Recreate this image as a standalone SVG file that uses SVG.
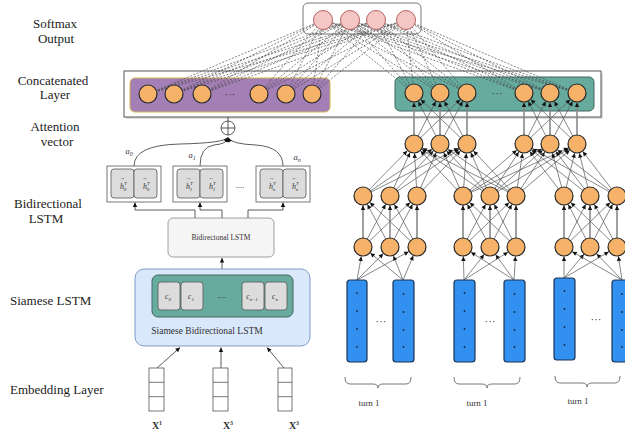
<svg xmlns="http://www.w3.org/2000/svg" width="625" height="438" viewBox="0 0 625 438">
<style>
  .lbl{font-family:"Liberation Serif","Times New Roman",serif;font-size:13px;fill:#222}
  .sm{font-family:"Liberation Serif","Times New Roman",serif;fill:#333}
  .it{font-family:"Liberation Serif","Times New Roman",serif;font-style:italic;fill:#333}
  .node{fill:#f7b26a;stroke:#2a2a2a;stroke-width:1.2}
  .soft{fill:#f5c6c6;stroke:#b86060;stroke-width:1}
  .d{stroke:#555;stroke-width:0.7;marker-end:url(#ah9)}
  .v{stroke:#8a8a8a;stroke-width:1.6;marker-end:url(#ah9)}
  .dash{stroke:#444;stroke-width:0.65;stroke-dasharray:2 1.5;fill:none}
  .bar{fill:#3190f0;stroke:#1d3556;stroke-width:1.2}
  .cell{fill:#dcdcdc;stroke:#555;stroke-width:0.8}
  .conn{stroke:#333;stroke-width:0.8;fill:none}
  .brace{stroke:#555;stroke-width:0.8;fill:none}
</style>
<defs>
  <marker id="ah9" markerUnits="userSpaceOnUse" markerWidth="20" markerHeight="20" orient="auto" overflow="visible" refX="0" refY="0">
    <path d="M-14,-2.2 L-9.6,0 L-14,2.2 z" fill="#111"/>
  </marker>
  <marker id="ah" markerUnits="userSpaceOnUse" markerWidth="10" markerHeight="10" orient="auto" overflow="visible" refX="0" refY="0">
    <path d="M-4.5,-2.2 L0,0 L-4.5,2.2 z" fill="#111"/>
  </marker>
</defs>
<rect width="625" height="438" fill="#fff"/>

<!-- row labels -->
<g id="labels">
  <text class="lbl" x="55" y="28" text-anchor="middle">Softmax</text>
  <text class="lbl" x="56" y="43" text-anchor="middle">Output</text>
  <text class="lbl" x="53" y="85" text-anchor="middle">Concatenated</text>
  <text class="lbl" x="55" y="99" text-anchor="middle">Layer</text>
  <text class="lbl" x="55" y="131" text-anchor="middle">Attention</text>
  <text class="lbl" x="57" y="146" text-anchor="middle">vector</text>
  <text class="lbl" x="48" y="208" text-anchor="middle">Bidirectional</text>
  <text class="lbl" x="46" y="223" text-anchor="middle">LSTM</text>
  <text class="lbl" x="10" y="305">Siamese LSTM</text>
  <text class="lbl" x="10" y="394">Embedding Layer</text>
</g>

<!-- container boxes -->
<g id="softmax-box">
  <rect x="303" y="3" width="118" height="31" rx="5" fill="#fff" stroke="#777" stroke-width="1"/>
</g>
<g id="concat-box">
  <rect x="126" y="73" width="477" height="46" fill="#ddd"/>
  <rect x="124" y="71" width="477" height="46" fill="#fff" stroke="#555" stroke-width="1"/>
  <rect x="130" y="78" width="200" height="34" rx="5" fill="#a47fb6" stroke="#d6b656" stroke-width="1"/>
  <rect x="395" y="77" width="199" height="34" rx="5" fill="#67ab9f" stroke="#44665f" stroke-width="1"/>
  <text class="sm" x="230" y="98" font-size="11" text-anchor="middle">···</text>
  <text class="sm" x="497" y="97" font-size="11" text-anchor="middle">···</text>
</g>

<!-- connectors -->
<g id="connectors">
  <!-- dashed links to softmax -->
  <path class="dash" d="M148,94L323,20M148,94L350,20M148,94L376,20M148,94L406,20
  M174,94L323,20M174,94L350,20M174,94L376,20M174,94L406,20
  M202,94L323,20M202,94L350,20M202,94L376,20M202,94L406,20
  M259,94L323,20M259,94L350,20M259,94L376,20M259,94L406,20
  M286,94L323,20M286,94L350,20M286,94L376,20M286,94L406,20
  M312,94L323,20M312,94L350,20M312,94L376,20M312,94L406,20
  M414,93L323,20M414,93L350,20M414,93L376,20M414,93L406,20
  M440,93L323,20M440,93L350,20M440,93L376,20M440,93L406,20
  M467,93L323,20M467,93L350,20M467,93L376,20M467,93L406,20
  M524,93L323,20M524,93L350,20M524,93L376,20M524,93L406,20
  M550,93L323,20M550,93L350,20M550,93L376,20M550,93L406,20
  M577,93L323,20M577,93L350,20M577,93L376,20M577,93L406,20"/>

  <!-- layer 2 to concatenated (right) -->
  <line class="v" x1="414" y1="144" x2="414" y2="93"/>
  <line class="d" x1="414" y1="144" x2="440" y2="93"/>
  <line class="d" x1="414" y1="144" x2="467" y2="93"/>
  <line class="d" x1="440" y1="144" x2="414" y2="93"/>
  <line class="v" x1="440" y1="144" x2="440" y2="93"/>
  <line class="d" x1="440" y1="144" x2="467" y2="93"/>
  <line class="d" x1="467" y1="144" x2="414" y2="93"/>
  <line class="d" x1="467" y1="144" x2="440" y2="93"/>
  <line class="v" x1="467" y1="144" x2="467" y2="93"/>
  <line class="v" x1="524" y1="144" x2="524" y2="93"/>
  <line class="d" x1="524" y1="144" x2="550" y2="93"/>
  <line class="d" x1="524" y1="144" x2="577" y2="93"/>
  <line class="d" x1="550" y1="144" x2="524" y2="93"/>
  <line class="v" x1="550" y1="144" x2="550" y2="93"/>
  <line class="d" x1="550" y1="144" x2="577" y2="93"/>
  <line class="d" x1="577" y1="144" x2="524" y2="93"/>
  <line class="d" x1="577" y1="144" x2="550" y2="93"/>
  <line class="v" x1="577" y1="144" x2="577" y2="93"/>

  <!-- layer 3 to layer 2 -->
  <line class="d" x1="363" y1="196" x2="414" y2="144"/>
  <line class="d" x1="363" y1="196" x2="440" y2="144"/>
  <line class="d" x1="363" y1="196" x2="467" y2="144"/>
  <line class="d" x1="390" y1="196" x2="414" y2="144"/>
  <line class="d" x1="390" y1="196" x2="440" y2="144"/>
  <line class="d" x1="390" y1="196" x2="467" y2="144"/>
  <line class="d" x1="417" y1="196" x2="414" y2="144"/>
  <line class="d" x1="417" y1="196" x2="440" y2="144"/>
  <line class="d" x1="417" y1="196" x2="467" y2="144"/>
  <line class="d" x1="463" y1="196" x2="414" y2="144"/>
  <line class="d" x1="463" y1="196" x2="440" y2="144"/>
  <line class="d" x1="463" y1="196" x2="467" y2="144"/>
  <line class="d" x1="490" y1="196" x2="414" y2="144"/>
  <line class="d" x1="490" y1="196" x2="440" y2="144"/>
  <line class="d" x1="490" y1="196" x2="467" y2="144"/>
  <line class="d" x1="516" y1="196" x2="414" y2="144"/>
  <line class="d" x1="516" y1="196" x2="440" y2="144"/>
  <line class="d" x1="516" y1="196" x2="467" y2="144"/>
  <line class="d" x1="463" y1="196" x2="524" y2="144"/>
  <line class="d" x1="463" y1="196" x2="550" y2="144"/>
  <line class="d" x1="463" y1="196" x2="577" y2="144"/>
  <line class="d" x1="490" y1="196" x2="524" y2="144"/>
  <line class="d" x1="490" y1="196" x2="550" y2="144"/>
  <line class="d" x1="490" y1="196" x2="577" y2="144"/>
  <line class="d" x1="516" y1="196" x2="524" y2="144"/>
  <line class="d" x1="516" y1="196" x2="550" y2="144"/>
  <line class="d" x1="516" y1="196" x2="577" y2="144"/>
  <line class="d" x1="564" y1="196" x2="524" y2="144"/>
  <line class="d" x1="564" y1="196" x2="550" y2="144"/>
  <line class="d" x1="564" y1="196" x2="577" y2="144"/>
  <line class="d" x1="590" y1="196" x2="524" y2="144"/>
  <line class="d" x1="590" y1="196" x2="550" y2="144"/>
  <line class="d" x1="590" y1="196" x2="577" y2="144"/>
  <line class="d" x1="617" y1="196" x2="524" y2="144"/>
  <line class="d" x1="617" y1="196" x2="550" y2="144"/>
  <line class="d" x1="617" y1="196" x2="577" y2="144"/>

  <!-- layer 4 to layer 3 -->
  <line class="v" x1="363" y1="247" x2="363" y2="196"/>
  <line class="d" x1="363" y1="247" x2="390" y2="196"/>
  <line class="d" x1="363" y1="247" x2="417" y2="196"/>
  <line class="d" x1="390" y1="247" x2="363" y2="196"/>
  <line class="v" x1="390" y1="247" x2="390" y2="196"/>
  <line class="d" x1="390" y1="247" x2="417" y2="196"/>
  <line class="d" x1="417" y1="247" x2="363" y2="196"/>
  <line class="d" x1="417" y1="247" x2="390" y2="196"/>
  <line class="v" x1="417" y1="247" x2="417" y2="196"/>
  <line class="v" x1="463" y1="247" x2="463" y2="196"/>
  <line class="d" x1="463" y1="247" x2="490" y2="196"/>
  <line class="d" x1="463" y1="247" x2="516" y2="196"/>
  <line class="d" x1="490" y1="247" x2="463" y2="196"/>
  <line class="v" x1="490" y1="247" x2="490" y2="196"/>
  <line class="d" x1="490" y1="247" x2="516" y2="196"/>
  <line class="d" x1="516" y1="247" x2="463" y2="196"/>
  <line class="d" x1="516" y1="247" x2="490" y2="196"/>
  <line class="v" x1="516" y1="247" x2="516" y2="196"/>
  <line class="v" x1="564" y1="247" x2="564" y2="196"/>
  <line class="d" x1="564" y1="247" x2="590" y2="196"/>
  <line class="d" x1="564" y1="247" x2="617" y2="196"/>
  <line class="d" x1="590" y1="247" x2="564" y2="196"/>
  <line class="v" x1="590" y1="247" x2="590" y2="196"/>
  <line class="d" x1="590" y1="247" x2="617" y2="196"/>
  <line class="d" x1="617" y1="247" x2="564" y2="196"/>
  <line class="d" x1="617" y1="247" x2="590" y2="196"/>
  <line class="v" x1="617" y1="247" x2="617" y2="196"/>

  <!-- turn bars to layer 4 -->
  <line class="d" x1="357" y1="280" x2="363" y2="247"/>
  <line class="d" x1="357" y1="280" x2="390" y2="247"/>
  <line class="d" x1="357" y1="280" x2="417" y2="247"/>
  <line class="d" x1="403" y1="280" x2="363" y2="247"/>
  <line class="d" x1="403" y1="280" x2="390" y2="247"/>
  <line class="d" x1="403" y1="280" x2="417" y2="247"/>
  <line class="d" x1="464" y1="280" x2="463" y2="247"/>
  <line class="d" x1="464" y1="280" x2="490" y2="247"/>
  <line class="d" x1="464" y1="280" x2="516" y2="247"/>
  <line class="d" x1="514" y1="280" x2="463" y2="247"/>
  <line class="d" x1="514" y1="280" x2="490" y2="247"/>
  <line class="d" x1="514" y1="280" x2="516" y2="247"/>
  <line class="d" x1="564" y1="278" x2="564" y2="247"/>
  <line class="d" x1="564" y1="278" x2="590" y2="247"/>
  <line class="d" x1="564" y1="278" x2="617" y2="247"/>
  <line class="d" x1="622" y1="280" x2="564" y2="247"/>
  <line class="d" x1="622" y1="280" x2="590" y2="247"/>
  <line class="d" x1="622" y1="280" x2="617" y2="247"/>

  <!-- left branch: attention -->
  <line class="conn" x1="228" y1="117" x2="228" y2="121"/>
  <path class="conn" d="M134,166 Q134,145 180,144 Q224,143 228,137.5" marker-end="url(#ah)"/>
  <path class="conn" d="M200,166 Q200,147 214,145 Q227,144 228,137.5" marker-end="url(#ah)"/>
  <path class="conn" d="M283,166 Q283,147 256,145 Q231,144 228,137.5" marker-end="url(#ah)"/>
  <path class="conn" d="M195,218 V210 H135 V202.5" marker-end="url(#ah)"/>
  <path class="conn" d="M222,218 V210 H200 V202.5" marker-end="url(#ah)"/>
  <path class="conn" d="M248,218 V210 H283 V202.5" marker-end="url(#ah)"/>
  <path class="conn" d="M222,269 V258" marker-end="url(#ah)"/>
  <path class="conn" d="M157,368 L180,347.5" marker-end="url(#ah)"/>
  <path class="conn" d="M221,368 L221,347.5" marker-end="url(#ah)"/>
  <path class="conn" d="M284,368 L267,347.5" marker-end="url(#ah)"/>
  <path class="conn" d="M140,307 L137,307" marker-end="url(#ah)"/>
</g>

<!-- softmax output nodes -->
<g id="softmax">
  <circle class="soft" cx="323" cy="20" r="9.5"/>
  <circle class="soft" cx="350" cy="20" r="9.5"/>
  <circle class="soft" cx="376" cy="20" r="9.5"/>
  <circle class="soft" cx="406" cy="20" r="9.5"/>
</g>

<!-- concatenated layer nodes -->
<g id="concat-left">
  <circle class="node" cx="148" cy="94" r="9"/>
  <circle class="node" cx="174" cy="94" r="9"/>
  <circle class="node" cx="202" cy="94" r="9"/>
  <circle class="node" cx="259" cy="94" r="9"/>
  <circle class="node" cx="286" cy="94" r="9"/>
  <circle class="node" cx="312" cy="94" r="9"/>
</g>
<g id="concat-right">
  <circle class="node" cx="414" cy="93" r="9"/>
  <circle class="node" cx="440" cy="93" r="9"/>
  <circle class="node" cx="467" cy="93" r="9"/>
  <circle class="node" cx="524" cy="93" r="9"/>
  <circle class="node" cx="550" cy="93" r="9"/>
  <circle class="node" cx="577" cy="93" r="9"/>
</g>

<!-- attention sum -->
<g id="oplus">
  <circle cx="228" cy="128" r="7" fill="#fff" stroke="#444" stroke-width="0.9"/>
  <path d="M221,128 H235 M228,121 V135" stroke="#444" stroke-width="0.9"/>
  <text class="it" x="129" y="154" font-size="8.5" text-anchor="middle">a<tspan font-size="6" dy="2">0</tspan></text>
  <text class="it" x="192" y="158" font-size="8.5" text-anchor="middle">a<tspan font-size="6" dy="2">1</tspan></text>
  <text class="it" x="297" y="160" font-size="8.5" text-anchor="middle">a<tspan font-size="6" dy="2">n</tspan></text>
</g>

<!-- bidirectional hidden states -->
<g id="hidden-0">
  <rect x="107" y="166" width="54" height="36" fill="#fff" stroke="#555" stroke-width="0.8"/>
  <rect class="cell" x="111" y="169" width="23" height="29" rx="3"/>
  <rect class="cell" x="134" y="169" width="23" height="29" rx="3"/>
  <text class="sm" x="122.5" y="180" font-size="6" text-anchor="middle">→</text>
  <text class="sm" x="145.5" y="180" font-size="6" text-anchor="middle">←</text>
  <text class="it" x="120" y="189" font-size="8">h<tspan font-size="5" dy="-4">T</tspan><tspan font-size="5" dx="-3" dy="6">0</tspan></text>
  <text class="it" x="143" y="189" font-size="8">h<tspan font-size="5" dy="-4">T</tspan><tspan font-size="5" dx="-3" dy="6">0</tspan></text>
</g>
<g id="hidden-1">
  <rect x="173" y="166" width="54" height="36" fill="#fff" stroke="#555" stroke-width="0.8"/>
  <rect class="cell" x="177" y="169" width="23" height="29" rx="3"/>
  <rect class="cell" x="200" y="169" width="23" height="29" rx="3"/>
  <text class="sm" x="188.5" y="180" font-size="6" text-anchor="middle">→</text>
  <text class="sm" x="211.5" y="180" font-size="6" text-anchor="middle">←</text>
  <text class="it" x="186" y="189" font-size="8">h<tspan font-size="5" dy="-4">T</tspan><tspan font-size="5" dx="-3" dy="6">1</tspan></text>
  <text class="it" x="209" y="189" font-size="8">h<tspan font-size="5" dy="-4">T</tspan><tspan font-size="5" dx="-3" dy="6">1</tspan></text>
</g>
<text class="sm" x="240" y="188" font-size="9" text-anchor="middle">....</text>
<g id="hidden-n">
  <rect x="256" y="166" width="54" height="36" fill="#fff" stroke="#555" stroke-width="0.8"/>
  <rect class="cell" x="260" y="169" width="23" height="29" rx="3"/>
  <rect class="cell" x="283" y="169" width="23" height="29" rx="3"/>
  <text class="sm" x="271.5" y="180" font-size="6" text-anchor="middle">→</text>
  <text class="sm" x="294.5" y="180" font-size="6" text-anchor="middle">←</text>
  <text class="it" x="269" y="189" font-size="8">h<tspan font-size="5" dy="-4">T</tspan><tspan font-size="5" dx="-3" dy="6">n</tspan></text>
  <text class="it" x="292" y="189" font-size="8">h<tspan font-size="5" dy="-4">T</tspan><tspan font-size="5" dx="-3" dy="6">n</tspan></text>
</g>

<g id="bilstm">
  <rect x="168" y="218" width="106" height="39" rx="5" fill="#f5f5f5" stroke="#888" stroke-width="0.8"/>
  <text class="sm" x="221" y="240" font-size="7.5" text-anchor="middle">Bidirectonal LSTM</text>
</g>

<g id="siamese">
  <rect x="135" y="269" width="175" height="77" rx="9" fill="#dae8fc" stroke="#7d9cc8" stroke-width="1"/>
  <rect x="152" y="275" width="141" height="42" rx="6" fill="#67ab9f" stroke="#44665f" stroke-width="1"/>
  <rect class="cell" x="158" y="282" width="22" height="28" rx="3"/>
  <rect class="cell" x="181" y="282" width="22" height="28" rx="3"/>
  <rect class="cell" x="242" y="282" width="22" height="28" rx="3"/>
  <rect class="cell" x="265" y="282" width="22" height="28" rx="3"/>
  <text class="it" x="168" y="299" font-size="7.5" text-anchor="middle">c<tspan font-size="5" dy="1.5">0</tspan></text>
  <text class="it" x="191" y="299" font-size="7.5" text-anchor="middle">c<tspan font-size="5" dy="1.5">1</tspan></text>
  <text class="sm" x="222" y="298" font-size="9" text-anchor="middle">....</text>
  <text class="it" x="252" y="299" font-size="7.5" text-anchor="middle">c<tspan font-size="5" dy="1.5">n−1</tspan></text>
  <text class="it" x="275" y="299" font-size="7.5" text-anchor="middle">c<tspan font-size="5" dy="1.5">n</tspan></text>
  <text class="sm" x="207" y="334" font-size="9.5" text-anchor="middle">Siamese Bidirectional LSTM</text>
</g>

<!-- embeddings -->
<g id="emb-1">
  <rect x="149" y="368" width="15" height="43" fill="#fff" stroke="#555" stroke-width="0.8"/>
  <path d="M149,382.3 H164 M149,396.7 H164" stroke="#555" stroke-width="0.8"/>
  <text class="sm" x="157" y="429" font-size="10" font-weight="bold" text-anchor="middle">X<tspan font-size="6" dy="-4">1</tspan></text>
</g>
<g id="emb-2">
  <rect x="213" y="368" width="15" height="43" fill="#fff" stroke="#555" stroke-width="0.8"/>
  <path d="M213,382.3 H228 M213,396.7 H228" stroke="#555" stroke-width="0.8"/>
  <text class="sm" x="228" y="429" font-size="10" font-weight="bold" text-anchor="middle">X<tspan font-size="6" dy="-4">3</tspan></text>
</g>
<g id="emb-3">
  <rect x="278" y="368" width="14" height="43" fill="#fff" stroke="#555" stroke-width="0.8"/>
  <path d="M278,382.3 H292 M278,396.7 H292" stroke="#555" stroke-width="0.8"/>
  <text class="sm" x="294" y="429" font-size="10" font-weight="bold" text-anchor="middle">X<tspan font-size="6" dy="-4">3</tspan></text>
</g>

<!-- right network hidden layers -->
<g id="layer2">
  <circle class="node" cx="414" cy="144" r="9"/>
  <circle class="node" cx="440" cy="144" r="9"/>
  <circle class="node" cx="467" cy="144" r="9"/>
  <circle class="node" cx="524" cy="144" r="9"/>
  <circle class="node" cx="550" cy="144" r="9"/>
  <circle class="node" cx="577" cy="144" r="9"/>
</g>
<g id="layer3">
  <circle class="node" cx="363" cy="196" r="9"/>
  <circle class="node" cx="390" cy="196" r="9"/>
  <circle class="node" cx="417" cy="196" r="9"/>
  <circle class="node" cx="463" cy="196" r="9"/>
  <circle class="node" cx="490" cy="196" r="9"/>
  <circle class="node" cx="516" cy="196" r="9"/>
  <circle class="node" cx="564" cy="196" r="9"/>
  <circle class="node" cx="590" cy="196" r="9"/>
  <circle class="node" cx="617" cy="196" r="9"/>
</g>
<g id="layer4">
  <circle class="node" cx="363" cy="247" r="9"/>
  <circle class="node" cx="390" cy="247" r="9"/>
  <circle class="node" cx="417" cy="247" r="9"/>
  <circle class="node" cx="463" cy="247" r="9"/>
  <circle class="node" cx="490" cy="247" r="9"/>
  <circle class="node" cx="516" cy="247" r="9"/>
  <circle class="node" cx="564" cy="247" r="9"/>
  <circle class="node" cx="590" cy="247" r="9"/>
  <circle class="node" cx="617" cy="247" r="9"/>
</g>

<!-- turn inputs -->
<g id="turn-1">
  <rect class="bar" x="347" y="280" width="20" height="82" rx="3"/>
  <rect class="bar" x="393" y="280" width="21" height="82" rx="3"/>
  <g fill="#1a2a44">
    <circle cx="357" cy="293" r="0.9"/><circle cx="357" cy="311" r="0.9"/><circle cx="357" cy="329" r="0.9"/><circle cx="357" cy="347" r="0.9"/>
    <circle cx="403.5" cy="294" r="0.9"/><circle cx="403.5" cy="312" r="0.9"/><circle cx="403.5" cy="330" r="0.9"/><circle cx="403.5" cy="347" r="0.9"/>
  </g>
  <text class="sm" x="381" y="325" font-size="11" text-anchor="middle">···</text>
  <path class="brace" d="M345,377 Q345,384 350,384 H373 Q378,384 378,388 Q378,384 383,384 H406 Q411,384 411,377"/>
  <text class="sm" x="369" y="406" font-size="9" text-anchor="middle">turn 1</text>
</g>
<g id="turn-2">
  <rect class="bar" x="454" y="280" width="21" height="82" rx="3"/>
  <rect class="bar" x="504" y="280" width="21" height="82" rx="3"/>
  <g fill="#1a2a44">
    <circle cx="464.5" cy="293" r="0.9"/><circle cx="464.5" cy="311" r="0.9"/><circle cx="464.5" cy="329" r="0.9"/><circle cx="464.5" cy="347" r="0.9"/>
    <circle cx="514.5" cy="294" r="0.9"/><circle cx="514.5" cy="312" r="0.9"/><circle cx="514.5" cy="330" r="0.9"/><circle cx="514.5" cy="347" r="0.9"/>
  </g>
  <text class="sm" x="490" y="325" font-size="11" text-anchor="middle">···</text>
  <path class="brace" d="M454,377 Q454,384 459,384 H482 Q487,384 487,388 Q487,384 492,384 H515 Q520,384 520,377"/>
  <text class="sm" x="477" y="406" font-size="9" text-anchor="middle">turn 1</text>
</g>
<g id="turn-3">
  <rect class="bar" x="554" y="278" width="21" height="82" rx="3"/>
  <rect class="bar" x="612" y="280" width="21" height="82" rx="3"/>
  <g fill="#1a2a44">
    <circle cx="564.5" cy="291" r="0.9"/><circle cx="564.5" cy="309" r="0.9"/><circle cx="564.5" cy="327" r="0.9"/><circle cx="564.5" cy="345" r="0.9"/>
    <circle cx="622" cy="294" r="0.9"/><circle cx="622" cy="312" r="0.9"/><circle cx="622" cy="330" r="0.9"/><circle cx="622" cy="347" r="0.9"/>
  </g>
  <text class="sm" x="596" y="323" font-size="11" text-anchor="middle">···</text>
  <path class="brace" d="M555,376 Q555,383 560,383 H582 Q587,383 587,387 Q587,383 592,383 H615 Q620,383 620,376"/>
  <text class="sm" x="578" y="404" font-size="9" text-anchor="middle">turn 1</text>
</g>
</svg>
